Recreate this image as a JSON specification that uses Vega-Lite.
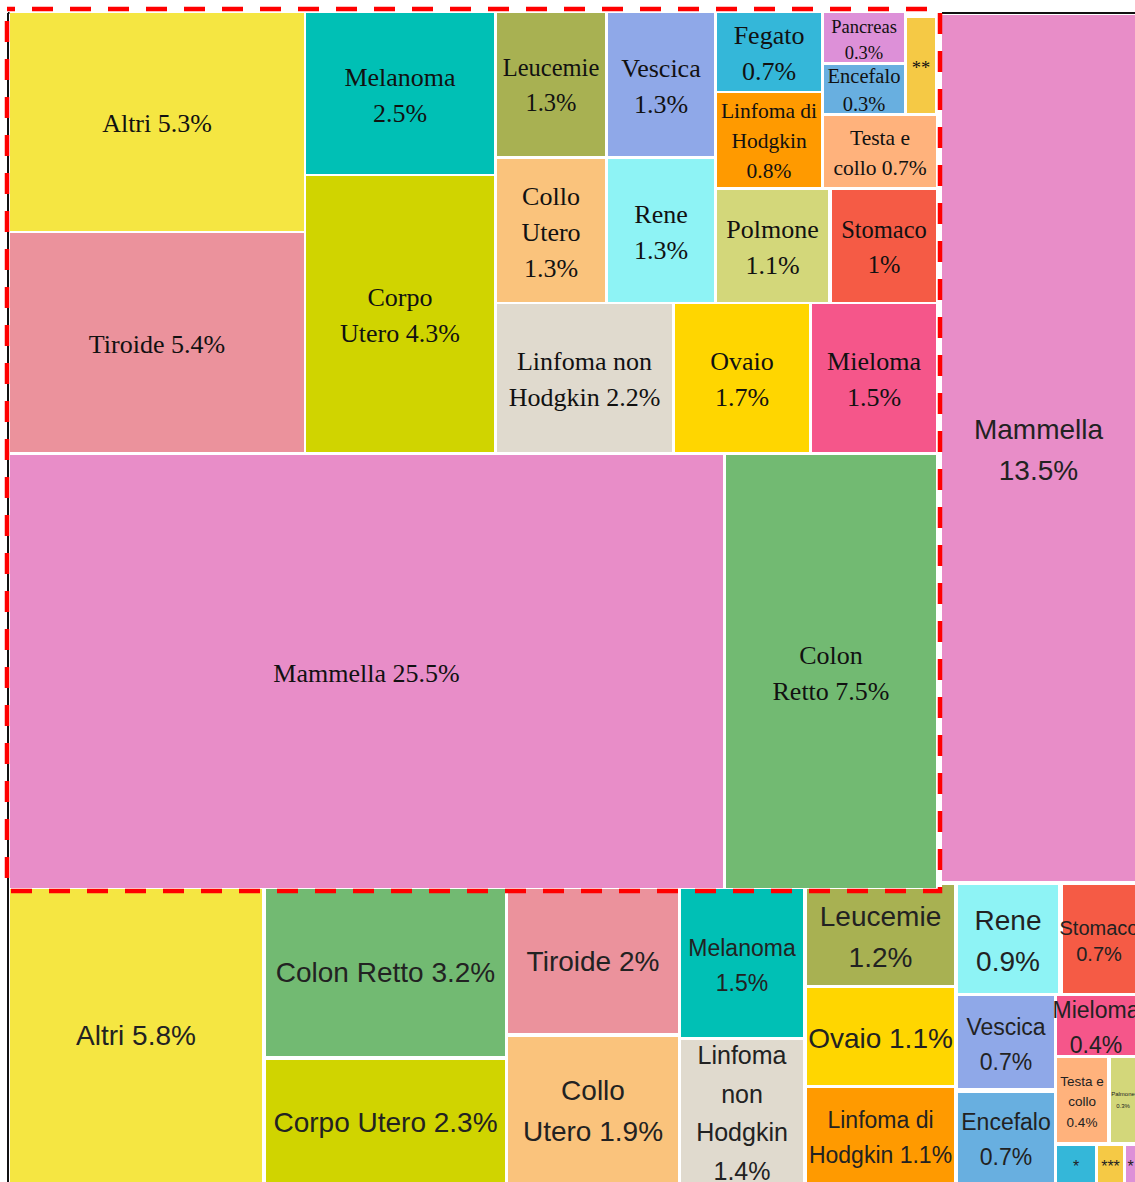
{
  "$schema": "https://vega.github.io/schema/vega-lite/v6.json",
  "width": 1135,
  "height": 1182,
  "autosize": {"type": "none"},
  "padding": 0,
  "background": "white",
  "config": {"view": {"stroke": null}},
  "datasets": {
    "outer": [
      {"id": "o_mammella", "cat": "Mammella", "label": "Mammella|13.5%", "x0": 942, "x1": 1135, "y0": 15, "y1": 881},
      {"id": "o_altri", "cat": "Altri", "label": "Altri 5.8%", "x0": 10, "x1": 262, "y0": 886, "y1": 1182},
      {"id": "o_colon", "cat": "Colon Retto", "label": "Colon Retto 3.2%", "x0": 266, "x1": 505, "y0": 886, "y1": 1056},
      {"id": "o_corpo", "cat": "Corpo Utero", "label": "Corpo Utero 2.3%", "x0": 266, "x1": 505, "y0": 1060, "y1": 1182},
      {"id": "o_tiroide", "cat": "Tiroide", "label": "Tiroide 2%", "x0": 508, "x1": 678, "y0": 886, "y1": 1033},
      {"id": "o_collo", "cat": "Collo Utero", "label": "Collo|Utero 1.9%", "x0": 508, "x1": 678, "y0": 1037, "y1": 1182},
      {"id": "o_melanoma", "cat": "Melanoma", "label": "Melanoma|1.5%", "x0": 681, "x1": 803, "y0": 889, "y1": 1037},
      {"id": "o_lnh", "cat": "Linfoma non Hodgkin", "label": "Linfoma|non|Hodgkin|1.4%", "x0": 681, "x1": 803, "y0": 1040, "y1": 1182},
      {"id": "o_leucemie", "cat": "Leucemie", "label": "Leucemie|1.2%", "x0": 807, "x1": 954, "y0": 885, "y1": 985},
      {"id": "o_ovaio", "cat": "Ovaio", "label": "Ovaio 1.1%", "x0": 807, "x1": 954, "y0": 988, "y1": 1085},
      {"id": "o_lh", "cat": "Linfoma di Hodgkin", "label": "Linfoma di|Hodgkin 1.1%", "x0": 807, "x1": 954, "y0": 1088, "y1": 1182},
      {"id": "o_rene", "cat": "Rene", "label": "Rene|0.9%", "x0": 958, "x1": 1058, "y0": 885, "y1": 993},
      {"id": "o_stomaco", "cat": "Stomaco", "label": "Stomaco|0.7%", "x0": 1063, "x1": 1135, "y0": 885, "y1": 993},
      {"id": "o_vescica", "cat": "Vescica", "label": "Vescica|0.7%", "x0": 958, "x1": 1054, "y0": 996, "y1": 1088},
      {"id": "o_encefalo", "cat": "Encefalo", "label": "Encefalo|0.7%", "x0": 958, "x1": 1054, "y0": 1093, "y1": 1182},
      {"id": "o_mieloma", "cat": "Mieloma", "label": "Mieloma|0.4%", "x0": 1057, "x1": 1135, "y0": 996, "y1": 1055},
      {"id": "o_testa", "cat": "Testa e collo", "label": "Testa e|collo|0.4%", "x0": 1057, "x1": 1107, "y0": 1058, "y1": 1142},
      {"id": "o_polmone", "cat": "Polmone", "label": "Palmone|0.3%", "x0": 1111, "x1": 1135, "y0": 1058, "y1": 1142},
      {"id": "o_star1", "cat": "Fegato", "label": "*", "x0": 1057, "x1": 1095, "y0": 1146, "y1": 1182},
      {"id": "o_star3", "cat": "**", "label": "***", "x0": 1098, "x1": 1123, "y0": 1146, "y1": 1182},
      {"id": "o_pink", "cat": "Pancreas", "label": "*", "x0": 1126, "x1": 1135, "y0": 1146, "y1": 1182}
    ],
    "inset": [
      {"id": "i_altri", "cat": "Altri", "label": "Altri 5.3%", "x0": 10, "x1": 304, "y0": 13, "y1": 231},
      {"id": "i_tiroide", "cat": "Tiroide", "label": "Tiroide 5.4%", "x0": 10, "x1": 304, "y0": 233, "y1": 452},
      {"id": "i_melanoma", "cat": "Melanoma", "label": "Melanoma|2.5%", "x0": 306, "x1": 494, "y0": 13, "y1": 174},
      {"id": "i_corpo", "cat": "Corpo Utero", "label": "Corpo|Utero 4.3%", "x0": 306, "x1": 494, "y0": 176, "y1": 452},
      {"id": "i_leucemie", "cat": "Leucemie", "label": "Leucemie|1.3%", "x0": 497, "x1": 605, "y0": 13, "y1": 156},
      {"id": "i_vescica", "cat": "Vescica", "label": "Vescica|1.3%", "x0": 608, "x1": 714, "y0": 13, "y1": 156},
      {"id": "i_collo", "cat": "Collo Utero", "label": "Collo|Utero|1.3%", "x0": 497, "x1": 605, "y0": 159, "y1": 302},
      {"id": "i_rene", "cat": "Rene", "label": "Rene|1.3%", "x0": 608, "x1": 714, "y0": 159, "y1": 302},
      {"id": "i_fegato", "cat": "Fegato", "label": "Fegato|0.7%", "x0": 717, "x1": 821, "y0": 13, "y1": 91},
      {"id": "i_lh", "cat": "Linfoma di Hodgkin", "label": "Linfoma di|Hodgkin|0.8%", "x0": 717, "x1": 821, "y0": 93, "y1": 187},
      {"id": "i_pancreas", "cat": "Pancreas", "label": "Pancreas|0.3%", "x0": 824, "x1": 904, "y0": 13, "y1": 62},
      {"id": "i_encefalo", "cat": "Encefalo", "label": "Encefalo|0.3%", "x0": 824, "x1": 904, "y0": 65, "y1": 113},
      {"id": "i_star2", "cat": "**", "label": "**", "x0": 907, "x1": 935, "y0": 18, "y1": 113},
      {"id": "i_testa", "cat": "Testa e collo", "label": "Testa e|collo 0.7%", "x0": 824, "x1": 936, "y0": 116, "y1": 187},
      {"id": "i_polmone", "cat": "Polmone", "label": "Polmone|1.1%", "x0": 717, "x1": 828, "y0": 190, "y1": 302},
      {"id": "i_stomaco", "cat": "Stomaco", "label": "Stomaco|1%", "x0": 832, "x1": 936, "y0": 190, "y1": 302},
      {"id": "i_lnh", "cat": "Linfoma non Hodgkin", "label": "Linfoma non|Hodgkin 2.2%", "x0": 497, "x1": 672, "y0": 304, "y1": 452},
      {"id": "i_ovaio", "cat": "Ovaio", "label": "Ovaio|1.7%", "x0": 675, "x1": 809, "y0": 304, "y1": 452},
      {"id": "i_mieloma", "cat": "Mieloma", "label": "Mieloma|1.5%", "x0": 812, "x1": 936, "y0": 304, "y1": 452},
      {"id": "i_mammella", "cat": "Mammella", "label": "Mammella 25.5%", "x0": 10, "x1": 723, "y0": 455, "y1": 888},
      {"id": "i_colon", "cat": "Colon Retto", "label": "Colon|Retto 7.5%", "x0": 726, "x1": 936, "y0": 455, "y1": 888}
    ],
    "axes": [
      {"x0": 8, "x1": 8, "y0": 13, "y1": 1182},
      {"x0": 8, "x1": 1135, "y0": 13, "y1": 13}
    ],
    "insetbox": [
      {"x0": 9.5, "x1": 942, "y0": 11, "y1": 889}
    ],
    "dashbox": [
      {"x0": 7, "x1": 940, "y0": 9, "y1": 891}
    ]
  },
  "encoding": {
    "x": {"field": "x0", "type": "quantitative", "scale": {"domain": [0, 1135], "nice": false, "zero": false}, "axis": null},
    "y": {"field": "y0", "type": "quantitative", "scale": {"domain": [0, 1182], "nice": false, "zero": false, "reverse": true}, "axis": null}
  },
  "layer": [
    {
      "data": {"name": "outer"},
      "mark": {"type": "rect", "clip": true},
      "encoding": {
        "x2": {"field": "x1"},
        "y2": {"field": "y1"},
        "color": {
          "field": "cat", "type": "nominal", "legend": null,
          "scale": {
            "domain": ["Altri", "Tiroide", "Melanoma", "Corpo Utero", "Leucemie", "Vescica", "Collo Utero", "Rene", "Fegato", "Linfoma di Hodgkin", "Pancreas", "Encefalo", "**", "Testa e collo", "Polmone", "Stomaco", "Linfoma non Hodgkin", "Ovaio", "Mieloma", "Mammella", "Colon Retto"],
            "range": ["#F5E642", "#EB929C", "#00C0B5", "#D0D400", "#A8B152", "#8FA8E8", "#FAC37C", "#8EF3F5", "#34B7D9", "#FF9A00", "#DD90D8", "#68AFE0", "#F5C945", "#FFB27C", "#D3D77A", "#F55B45", "#E0DACE", "#FFD600", "#F5568A", "#E88DC8", "#72BA72"]
          }
        }
      }
    },
    {
      "data": {"name": "outer"},
      "transform": [
        {"calculate": "(datum.x0 + datum.x1) / 2", "as": "cx"},
        {"calculate": "(datum.y0 + datum.y1) / 2 - (length(split(datum.label, '|')) - 1) / 2 * 41", "as": "cy"},
        {"filter": {"field": "id", "oneOf": ["o_mammella", "o_altri", "o_colon", "o_corpo", "o_tiroide", "o_collo", "o_leucemie", "o_ovaio", "o_rene"]}}
      ],
      "mark": {"type": "text", "font": "Liberation Sans", "fontSize": 28, "lineHeight": 41, "lineBreak": "|", "align": "center", "baseline": "middle", "dy": 3, "color": "#222222"},
      "encoding": {"x": {"field": "cx", "type": "quantitative"}, "y": {"field": "cy", "type": "quantitative"}, "text": {"field": "label"}}
    },
    {
      "data": {"name": "outer"},
      "transform": [
        {"calculate": "(datum.x0 + datum.x1) / 2", "as": "cx"},
        {"calculate": "(datum.y0 + datum.y1) / 2 - (length(split(datum.label, '|')) - 1) / 2 * 38.5", "as": "cy"},
        {"filter": {"field": "id", "oneOf": ["o_lnh"]}}
      ],
      "mark": {"type": "text", "font": "Liberation Sans", "fontSize": 25, "lineHeight": 38.5, "lineBreak": "|", "align": "center", "baseline": "middle", "dy": 3, "color": "#222222"},
      "encoding": {"x": {"field": "cx", "type": "quantitative"}, "y": {"field": "cy", "type": "quantitative"}, "text": {"field": "label"}}
    },
    {
      "data": {"name": "outer"},
      "transform": [
        {"calculate": "(datum.x0 + datum.x1) / 2", "as": "cx"},
        {"calculate": "(datum.y0 + datum.y1) / 2 - (length(split(datum.label, '|')) - 1) / 2 * 35", "as": "cy"},
        {"filter": {"field": "id", "oneOf": ["o_melanoma", "o_lh", "o_vescica", "o_encefalo", "o_mieloma"]}}
      ],
      "mark": {"type": "text", "font": "Liberation Sans", "fontSize": 23, "lineHeight": 35, "lineBreak": "|", "align": "center", "baseline": "middle", "dy": 3, "color": "#222222"},
      "encoding": {"x": {"field": "cx", "type": "quantitative"}, "y": {"field": "cy", "type": "quantitative"}, "text": {"field": "label"}}
    },
    {
      "data": {"name": "outer"},
      "transform": [
        {"calculate": "(datum.x0 + datum.x1) / 2", "as": "cx"},
        {"calculate": "(datum.y0 + datum.y1) / 2 - (length(split(datum.label, '|')) - 1) / 2 * 26", "as": "cy"},
        {"filter": {"field": "id", "oneOf": ["o_stomaco"]}}
      ],
      "mark": {"type": "text", "font": "Liberation Sans", "fontSize": 20, "lineHeight": 26, "lineBreak": "|", "align": "center", "baseline": "middle", "dy": 3, "color": "#222222"},
      "encoding": {"x": {"field": "cx", "type": "quantitative"}, "y": {"field": "cy", "type": "quantitative"}, "text": {"field": "label"}}
    },
    {
      "data": {"name": "outer"},
      "transform": [
        {"calculate": "(datum.x0 + datum.x1) / 2", "as": "cx"},
        {"calculate": "(datum.y0 + datum.y1) / 2 - (length(split(datum.label, '|')) - 1) / 2 * 20.5", "as": "cy"},
        {"filter": {"field": "id", "oneOf": ["o_testa"]}}
      ],
      "mark": {"type": "text", "font": "Liberation Sans", "fontSize": 13.5, "lineHeight": 20.5, "lineBreak": "|", "align": "center", "baseline": "middle", "dy": 2, "color": "#222222"},
      "encoding": {"x": {"field": "cx", "type": "quantitative"}, "y": {"field": "cy", "type": "quantitative"}, "text": {"field": "label"}}
    },
    {
      "data": {"name": "outer"},
      "transform": [
        {"calculate": "(datum.x0 + datum.x1) / 2", "as": "cx"},
        {"calculate": "(datum.y0 + datum.y1) / 2", "as": "cy"},
        {"filter": {"field": "id", "oneOf": ["o_star1", "o_star3", "o_pink"]}}
      ],
      "mark": {"type": "text", "font": "Liberation Sans", "fontSize": 16, "align": "center", "baseline": "middle", "dy": 3, "color": "#222222"},
      "encoding": {"x": {"field": "cx", "type": "quantitative"}, "y": {"field": "cy", "type": "quantitative"}, "text": {"field": "label"}}
    },
    {
      "data": {"name": "outer"},
      "transform": [
        {"calculate": "(datum.x0 + datum.x1) / 2", "as": "cx"},
        {"calculate": "(datum.y0 + datum.y1) / 2 - (length(split(datum.label, '|')) - 1) / 2 * 12", "as": "cy"},
        {"filter": {"field": "id", "oneOf": ["o_polmone"]}}
      ],
      "mark": {"type": "text", "font": "Liberation Sans", "fontSize": 6, "lineHeight": 12, "lineBreak": "|", "align": "center", "baseline": "middle", "color": "#222222"},
      "encoding": {"x": {"field": "cx", "type": "quantitative"}, "y": {"field": "cy", "type": "quantitative"}, "text": {"field": "label"}}
    },
    {
      "data": {"name": "axes"},
      "mark": {"type": "rule", "color": "#111111", "strokeWidth": 2},
      "encoding": {"x2": {"field": "x1"}, "y2": {"field": "y1"}}
    },
    {
      "data": {"name": "insetbox"},
      "mark": {"type": "rect", "color": "white"},
      "encoding": {"x2": {"field": "x1"}, "y2": {"field": "y1"}}
    },
    {
      "data": {"name": "inset"},
      "mark": {"type": "rect"},
      "encoding": {
        "x2": {"field": "x1"},
        "y2": {"field": "y1"},
        "color": {"field": "cat", "type": "nominal", "legend": null}
      }
    },
    {
      "data": {"name": "inset"},
      "transform": [
        {"calculate": "(datum.x0 + datum.x1) / 2", "as": "cx"},
        {"calculate": "(datum.y0 + datum.y1) / 2 - (length(split(datum.label, '|')) - 1) / 2 * 36", "as": "cy"},
        {"filter": {"field": "id", "oneOf": ["i_altri", "i_tiroide", "i_melanoma", "i_corpo", "i_vescica", "i_collo", "i_rene", "i_fegato", "i_polmone", "i_lnh", "i_ovaio", "i_mieloma", "i_mammella", "i_colon"]}}
      ],
      "mark": {"type": "text", "font": "Liberation Serif", "fontSize": 26, "lineHeight": 36, "lineBreak": "|", "align": "center", "baseline": "middle", "dy": 2, "color": "#111111"},
      "encoding": {"x": {"field": "cx", "type": "quantitative"}, "y": {"field": "cy", "type": "quantitative"}, "text": {"field": "label"}}
    },
    {
      "data": {"name": "inset"},
      "transform": [
        {"calculate": "(datum.x0 + datum.x1) / 2", "as": "cx"},
        {"calculate": "(datum.y0 + datum.y1) / 2 - (length(split(datum.label, '|')) - 1) / 2 * 35", "as": "cy"},
        {"filter": {"field": "id", "oneOf": ["i_leucemie", "i_stomaco"]}}
      ],
      "mark": {"type": "text", "font": "Liberation Serif", "fontSize": 24.5, "lineHeight": 35, "lineBreak": "|", "align": "center", "baseline": "middle", "dy": 2, "color": "#111111"},
      "encoding": {"x": {"field": "cx", "type": "quantitative"}, "y": {"field": "cy", "type": "quantitative"}, "text": {"field": "label"}}
    },
    {
      "data": {"name": "inset"},
      "transform": [
        {"calculate": "(datum.x0 + datum.x1) / 2", "as": "cx"},
        {"calculate": "(datum.y0 + datum.y1) / 2 - (length(split(datum.label, '|')) - 1) / 2 * 30", "as": "cy"},
        {"filter": {"field": "id", "oneOf": ["i_lh", "i_testa"]}}
      ],
      "mark": {"type": "text", "font": "Liberation Serif", "fontSize": 21.5, "lineHeight": 30, "lineBreak": "|", "align": "center", "baseline": "middle", "dy": 2, "color": "#111111"},
      "encoding": {"x": {"field": "cx", "type": "quantitative"}, "y": {"field": "cy", "type": "quantitative"}, "text": {"field": "label"}}
    },
    {
      "data": {"name": "inset"},
      "transform": [
        {"calculate": "(datum.x0 + datum.x1) / 2", "as": "cx"},
        {"calculate": "(datum.y0 + datum.y1) / 2 - (length(split(datum.label, '|')) - 1) / 2 * 28", "as": "cy"},
        {"filter": {"field": "id", "oneOf": ["i_encefalo"]}}
      ],
      "mark": {"type": "text", "font": "Liberation Serif", "fontSize": 20.5, "lineHeight": 28, "lineBreak": "|", "align": "center", "baseline": "middle", "dy": 2, "color": "#111111"},
      "encoding": {"x": {"field": "cx", "type": "quantitative"}, "y": {"field": "cy", "type": "quantitative"}, "text": {"field": "label"}}
    },
    {
      "data": {"name": "inset"},
      "transform": [
        {"calculate": "(datum.x0 + datum.x1) / 2", "as": "cx"},
        {"calculate": "(datum.y0 + datum.y1) / 2 - (length(split(datum.label, '|')) - 1) / 2 * 26", "as": "cy"},
        {"filter": {"field": "id", "oneOf": ["i_pancreas", "i_star2"]}}
      ],
      "mark": {"type": "text", "font": "Liberation Serif", "fontSize": 18.5, "lineHeight": 26, "lineBreak": "|", "align": "center", "baseline": "middle", "dy": 2, "color": "#111111"},
      "encoding": {"x": {"field": "cx", "type": "quantitative"}, "y": {"field": "cy", "type": "quantitative"}, "text": {"field": "label"}}
    },
    {
      "data": {"name": "dashbox"},
      "mark": {"type": "rect", "fill": null, "fillOpacity": 0, "stroke": "#FF0000", "strokeWidth": 4.5, "strokeDash": [21, 17], "strokeDashOffset": 13},
      "encoding": {"x2": {"field": "x1"}, "y2": {"field": "y1"}}
    }
  ]
}
